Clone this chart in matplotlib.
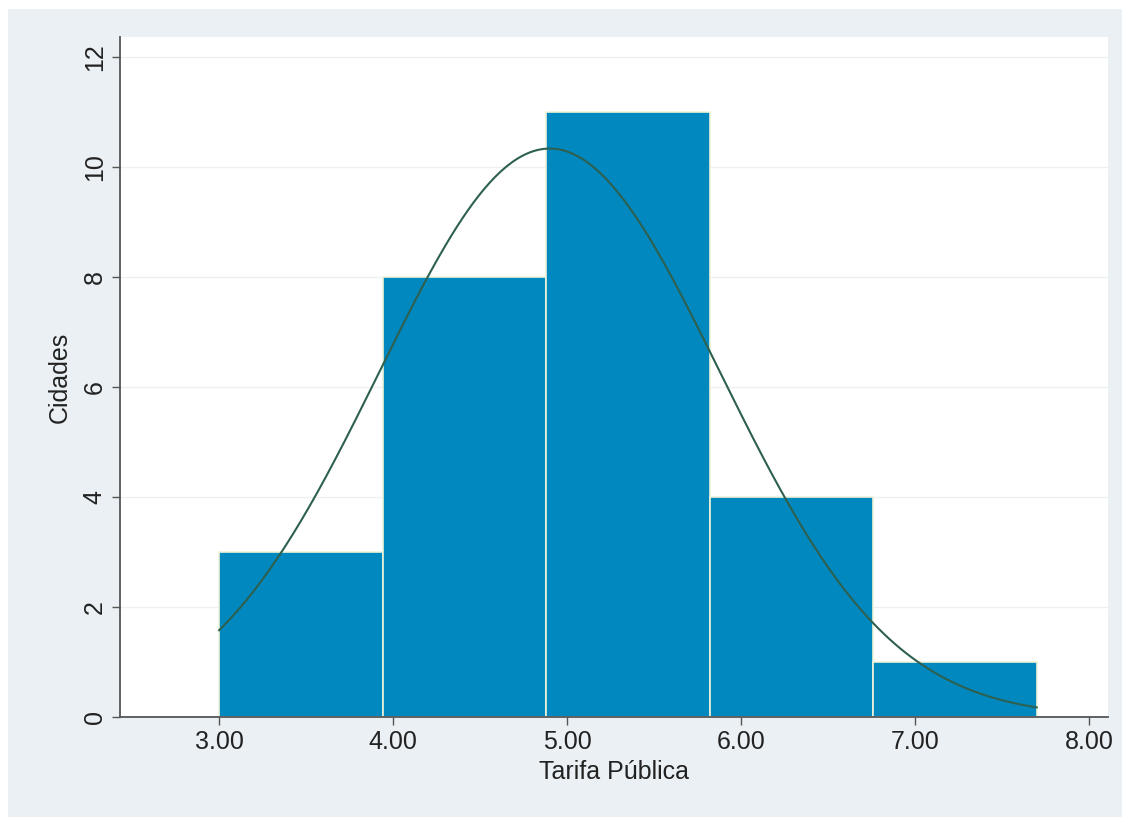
import matplotlib.pyplot as plt
import numpy as np
from matplotlib.patches import Rectangle

# Histogram data (Tarifa Pública)
bin_edges = [3.00, 3.94, 4.88, 5.82, 6.76, 7.70]
counts = [3, 8, 11, 4, 1]

# normal overlay parameters
mean_tarifa = 4.90
sd_tarifa = 0.98
n_obs = sum(counts)

x_ticks = [3, 4, 5, 6, 7, 8]
x_tick_labels = ["3.00", "4.00", "5.00", "6.00", "7.00", "8.00"]
y_ticks = [0, 2, 4, 6, 8, 10, 12]

plt.rcParams['font.family'] = ['Liberation Sans', 'DejaVu Sans']

fig = plt.figure(figsize=(11.31, 8.25), dpi=100)
fig.patch.set_facecolor('white')
fig.patches.append(Rectangle((8 / 1131, 8 / 825), 1 - 17 / 1131, 1 - 17 / 825,
                             transform=fig.transFigure, facecolor='#EAF0F3',
                             edgecolor='none', zorder=-10))

ax = fig.add_axes([120 / 1131, 108 / 825, 988 / 1131, 680 / 825])
ax.set_facecolor('white')

widths = np.diff(bin_edges)
ax.bar(bin_edges[:-1], counts, width=widths, align='edge', color='#0088BF',
       edgecolor='#EEF3D8', linewidth=1.2, zorder=2)

xs = np.linspace(bin_edges[0], bin_edges[-1], 300)
bw = widths.mean()
dens = n_obs * bw / (sd_tarifa * np.sqrt(2 * np.pi)) * np.exp(-0.5 * ((xs - mean_tarifa) / sd_tarifa) ** 2)
ax.plot(xs, dens, color='#2E6050', linewidth=1.5, zorder=3)

ax.set_xlim(2.43, 8.11)
ax.set_ylim(0, 12.36)
ax.set_xticks(x_ticks)
ax.set_xticklabels(x_tick_labels)
ax.set_yticks(y_ticks)
ax.grid(axis='y', color='#EEF0F0', linewidth=1, zorder=0)
ax.set_axisbelow(True)

for s in ['top', 'right']:
    ax.spines[s].set_visible(False)
for s in ['left', 'bottom']:
    ax.spines[s].set_color('#555555')
    ax.spines[s].set_linewidth(1.3)

ax.tick_params(axis='both', labelsize=18, length=6, width=1, color='#555555', labelcolor='#222222')
for lbl in ax.get_yticklabels():
    lbl.set_rotation(90)
    lbl.set_va('center')

ax.set_xlabel('Tarifa Pública', fontsize=18, color='#222222', labelpad=4)
ax.set_ylabel('Cidades', fontsize=18, color='#222222', labelpad=8)

fig.savefig('out.png', dpi=100)
